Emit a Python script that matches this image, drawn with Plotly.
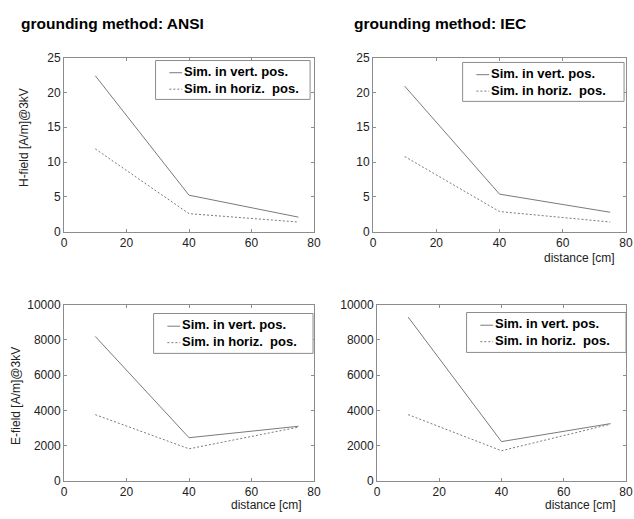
import plotly.graph_objects as go

distance = [10, 40, 75]
h_ansi_vert = [22.4, 5.25, 2.1]
h_ansi_horiz = [11.9, 2.6, 1.4]
h_iec_vert = [20.9, 5.4, 2.8]
h_iec_horiz = [10.8, 2.9, 1.4]
e_ansi_vert = [8200, 2450, 3100]
e_ansi_horiz = [3760, 1820, 3050]
e_iec_vert = [9300, 2230, 3250]
e_iec_horiz = [3760, 1710, 3220]

series_names = ["Sim. in vert. pos.", "Sim. in horiz.  pos."]
titles = ["grounding method: ANSI", "grounding method: IEC"]
h_label = "H-field [A/m]@3kV"
e_label = "E-field [A/m]@3kV"
x_label = "distance [cm]"
x_ticks = [0, 20, 40, 60, 80]
h_ticks = [0, 5, 10, 15, 20, 25]
e_ticks = [0, 2000, 4000, 6000, 8000, 10000]

W, H = 634, 519
LINE = "#7a7a7a"
AXC = "#8c8c8c"
DASH = "2px,2px"
FONT = "Liberation Sans, Arial, sans-serif"
LEG_SIZE = 13

fig = go.Figure()

panels = [
    ("x", "y", h_ansi_vert, h_ansi_horiz),
    ("x2", "y2", h_iec_vert, h_iec_horiz),
    ("x3", "y3", e_ansi_vert, e_ansi_horiz),
    ("x4", "y4", e_iec_vert, e_iec_horiz),
]
for xa, ya, v, h in panels:
    fig.add_trace(go.Scatter(x=distance, y=v, mode="lines", name=series_names[0], showlegend=False,
                             line=dict(color=LINE, width=1), xaxis=xa, yaxis=ya))
    fig.add_trace(go.Scatter(x=distance, y=h, mode="lines", name=series_names[1], showlegend=False,
                             line=dict(color=LINE, width=1, dash=DASH), xaxis=xa, yaxis=ya))

def px_x(p):
    return p / W

def px_y(p):
    return 1 - p / H

ax_common = dict(showline=True, mirror="ticks", linecolor=AXC, linewidth=1, ticks="inside",
                 ticklen=3, tickcolor=AXC, showgrid=False, zeroline=False,
                 tickfont=dict(family=FONT, size=12, color="#222"))

domains = {
    "": ([62, 316], [52, 231]),
    "2": ([376, 633], [52, 231]),
    "3": ([62, 316], [306, 487]),
    "4": ([380, 633], [306, 487]),
}
layout = {}
for k, (dx, dy) in domains.items():
    is_h = k in ("", "2")
    yt = h_ticks if is_h else e_ticks
    yr = [0, 25] if is_h else [0, 10000]
    layout["xaxis" + k] = dict(ax_common, domain=[px_x(dx[0]), px_x(dx[1])], range=[0, 80],
                               tickvals=x_ticks, ticktext=[str(t) for t in x_ticks], anchor="y" + k)
    layout["yaxis" + k] = dict(ax_common, domain=[px_y(dy[1]), px_y(dy[0])], range=yr,
                               tickvals=yt, ticktext=[str(t) for t in yt], anchor="x" + k)

fig.update_layout(width=W, height=H, margin=dict(l=0, r=0, t=0, b=0), showlegend=False,
                  plot_bgcolor="white", paper_bgcolor="white", **layout)

# legend boxes (drawn manually to get the compact original layout)
legend_boxes = [(155, 55, 312, 95), (467, 57, 631, 97), (153, 315, 315, 356), (471, 314, 633, 355)]
shapes = []
anns = []
row_gap = LEG_SIZE * 1.3
for (x0, y0, x1, y1) in legend_boxes:
    cy = (y0 + y1) / 2
    shapes.append(dict(type="rect", xref="paper", yref="paper", x0=px_x(x0), x1=px_x(x1),
                       y0=px_y(y1), y1=px_y(y0), line=dict(color=AXC, width=1), fillcolor="white"))
    for i, name in enumerate(series_names):
        ry = cy + (i - 0.5) * row_gap + 1
        shapes.append(dict(type="line", xref="paper", yref="paper", x0=px_x(x0 + 14), x1=px_x(x0 + 27),
                           y0=px_y(ry), y1=px_y(ry),
                           line=dict(color=LINE, width=1, dash="solid" if i == 0 else DASH)))
    anns.append(dict(text="<br>".join("<b>" + n + "</b>" for n in series_names),
                     x=px_x(x0 + 27), y=px_y(cy), xanchor="left", yanchor="middle", align="left",
                     xref="paper", yref="paper", showarrow=False,
                     font=dict(family=FONT, size=LEG_SIZE, color="black")))

for txt, xp in [(titles[0], 16), (titles[1], 355)]:
    anns.append(dict(text="<b>" + txt + "</b>", x=px_x(xp), y=px_y(17), xanchor="left", yanchor="middle",
                     xref="paper", yref="paper", showarrow=False,
                     font=dict(family=FONT, size=15.5, color="black")))
axis_titles = [
    dict(text=h_label, x=px_x(22), y=px_y(134), textangle=-90),
    dict(text=e_label, x=px_x(13), y=px_y(400), textangle=-90),
    dict(text=x_label, x=px_x(586), y=px_y(258), textangle=0),
    dict(text=x_label, x=px_x(268), y=px_y(512), textangle=0),
    dict(text=x_label, x=px_x(587), y=px_y(512), textangle=0),
]
for a in axis_titles:
    a.update(xref="paper", yref="paper", showarrow=False, xanchor="center", yanchor="middle",
             font=dict(family=FONT, size=12, color="#222"))
fig.update_layout(annotations=anns + axis_titles, shapes=shapes)

fig.write_html("out.html")
